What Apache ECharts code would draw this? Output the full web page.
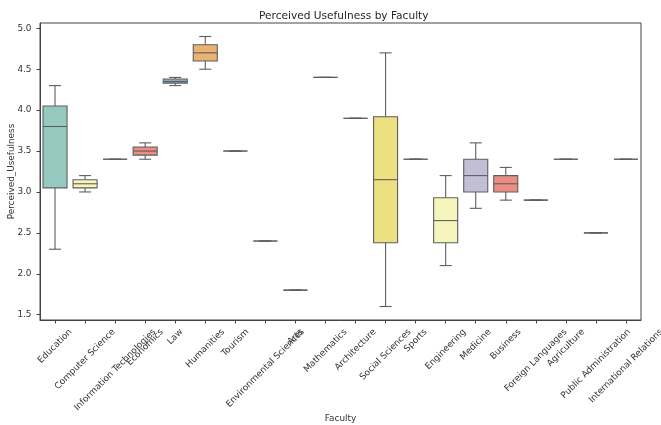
<!DOCTYPE html>
<html>
<head>
<meta charset="utf-8">
<script src="https://cdn.jsdelivr.net/npm/echarts@6/dist/echarts.min.js"></script>
<style>html,body{margin:0;padding:0;background:#fff;}#c{width:661px;height:425px;}</style>
</head>
<body>
<div id="c"></div>
<script>
const categories = ['Education', 'Computer Science', 'Information Technologies', 'Economics', 'Law', 'Humanities', 'Tourism', 'Environmental Sciences', 'Arts', 'Mathematics', 'Architecture', 'Social Sciences', 'Sports', 'Engineering', 'Medicine', 'Business', 'Foreign Languages', 'Agriculture', 'Public Administration', 'International Relations'];
const whiskerLow  = [2.3, 3.0, 3.4, 3.4, 4.3, 4.5, 3.5, 2.4, 1.8, 4.4, 3.9, 1.6, 3.4, 2.1, 2.8, 2.9, 2.9, 3.4, 2.5, 3.4];
const q1          = [3.05, 3.05, 3.4, 3.45, 4.33, 4.6, 3.5, 2.4, 1.8, 4.4, 3.9, 2.38, 3.4, 2.38, 3.0, 3.0, 2.9, 3.4, 2.5, 3.4];
const median      = [3.8, 3.1, 3.4, 3.5, 4.35, 4.7, 3.5, 2.4, 1.8, 4.4, 3.9, 3.15, 3.4, 2.65, 3.2, 3.1, 2.9, 3.4, 2.5, 3.4];
const q3          = [4.05, 3.15, 3.4, 3.55, 4.38, 4.8, 3.5, 2.4, 1.8, 4.4, 3.9, 3.92, 3.4, 2.93, 3.4, 3.2, 2.9, 3.4, 2.5, 3.4];
const whiskerHigh = [4.3, 3.2, 3.4, 3.6, 4.4, 4.9, 3.5, 2.4, 1.8, 4.4, 3.9, 4.7, 3.4, 3.2, 3.6, 3.3, 2.9, 3.4, 2.5, 3.4];
const yTicks = [1.5, 2.0, 2.5, 3.0, 3.5, 4.0, 4.5, 5.0];

// seaborn Set3, desaturated (style only)
const palette = ['#96cac1', '#f6f6bc', '#c1bed6', '#ea8e83', '#8aafc9', '#eab375', '#afcf78', '#f2d2e2', '#d9d9d9', '#b587b6', '#cde8c7', '#ede081'];

const FONT = '"DejaVu Sans", sans-serif';
const tickFont = 8.9;
const measureCtx = document.createElement('canvas').getContext('2d');
measureCtx.font = tickFont + 'px "DejaVu Sans"';
const rich = {};
categories.forEach((c, i) => {
  const w = measureCtx.measureText(c).width;
  const h = 10;
  const p = (w + h) / 2;
  rich['l' + i] = { fontSize: tickFont, fontFamily: FONT, color: '#333', padding: [p, p, 0, 0] };
});

const data = categories.map((c, i) => [i, whiskerLow[i], q1[i], median[i], q3[i], whiskerHigh[i]]);
const lineColor = '#5e5e5e';

const chart = echarts.init(document.getElementById('c'), null, { renderer: 'canvas' });
chart.setOption({
  animation: false,
  backgroundColor: '#fff',
  title: {
    text: 'Perceived Usefulness by Faculty',
    left: 254, top: 6,
    textStyle: { fontFamily: FONT, fontSize: 10.6, fontWeight: 'normal', color: '#262626' }
  },
  grid: { left: 40, right: 20, top: 23, bottom: 105, containLabel: false, outerBoundsMode: 'none',
          show: true, borderColor: '#444', borderWidth: 1, backgroundColor: 'transparent' },
  xAxis: {
    type: 'category',
    data: categories,
    boundaryGap: true,
    name: 'Faculty',
    nameLocation: 'middle',
    nameGap: 94,
    nameMoveOverlap: false,
    nameTextStyle: { fontFamily: FONT, fontSize: tickFont, color: '#333' },
    axisLine: { show: true, lineStyle: { color: '#444', width: 1 } },
    axisTick: { show: true, alignWithLabel: true, length: 3.5, lineStyle: { color: '#444' } },
    axisLabel: {
      interval: 0, rotate: 45, margin: 7, align: 'center', verticalAlign: 'middle',
      hideOverlap: false,
      formatter: (v, i) => '{l' + i + '|' + v + '}',
      rich: rich
    },
    splitLine: { show: false }
  },
  yAxis: {
    type: 'value',
    min: 1.435, max: 5.065,
    name: 'Perceived_Usefulness',
    nameLocation: 'middle',
    nameGap: 24,
    nameMoveOverlap: false,
    nameTextStyle: { fontFamily: FONT, fontSize: tickFont, color: '#333' },
    axisLine: { show: true, lineStyle: { color: '#444', width: 1 } },
    axisTick: { show: true, length: 3.5, lineStyle: { color: '#444' }, customValues: yTicks },
    axisLabel: { margin: 8.5, fontFamily: FONT, fontSize: tickFont, color: '#333', customValues: yTicks, formatter: v => v.toFixed(1) },
    splitLine: { show: false }
  },
  series: [{
    type: 'custom',
    data: data,
    clip: true,
    renderItem: function (params, api) {
      const i = api.value(0);
      const pLow = api.coord([i, api.value(1)]);
      const pQ1 = api.coord([i, api.value(2)]);
      const pMed = api.coord([i, api.value(3)]);
      const pQ3 = api.coord([i, api.value(4)]);
      const pHigh = api.coord([i, api.value(5)]);
      const bw = api.size([1, 0])[0] * 0.8;
      const cw = bw * 0.5;
      const x = pMed[0];
      const st = { stroke: lineColor, lineWidth: 1.1 };
      return {
        type: 'group',
        children: [
          { type: 'line', shape: { x1: x, y1: pQ1[1], x2: x, y2: pLow[1] }, style: st },
          { type: 'line', shape: { x1: x, y1: pQ3[1], x2: x, y2: pHigh[1] }, style: st },
          { type: 'line', shape: { x1: x - cw / 2, y1: pLow[1], x2: x + cw / 2, y2: pLow[1] }, style: st },
          { type: 'line', shape: { x1: x - cw / 2, y1: pHigh[1], x2: x + cw / 2, y2: pHigh[1] }, style: st },
          { type: 'rect', shape: { x: x - bw / 2, y: pQ3[1], width: bw, height: pQ1[1] - pQ3[1] },
            style: { fill: palette[i % palette.length], stroke: lineColor, lineWidth: 1.1 } },
          { type: 'line', shape: { x1: x - bw / 2, y1: pMed[1], x2: x + bw / 2, y2: pMed[1] }, style: st }
        ]
      };
    }
  }]
});
</script>
</body>
</html>
